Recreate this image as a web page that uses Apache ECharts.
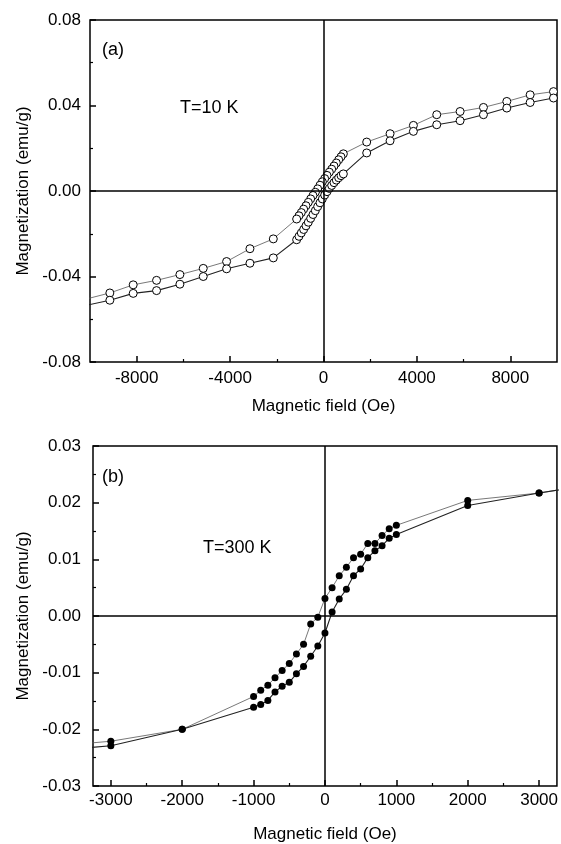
<!DOCTYPE html>
<html>
<head>
<meta charset="utf-8">
<script src="https://cdn.jsdelivr.net/npm/echarts@6/dist/echarts.min.js"></script>
<style>
html, body { margin: 0; padding: 0; background: #fff; }
#chart { width: 561px; height: 844px; }
</style>
</head>
<body>
<div id="chart"></div>
<script>
// (a) T=10 K, 磁滞回线 - 下降支 / 上升支
var a_fieldDown = [9850, 8850, 7850, 6850, 5850, 4850, 3850, 2850, 1850,
	850, 750, 650, 550, 450, 350, 250, 150, 50, -50, -150, -250, -350, -450, -550, -650, -750, -850, -950, -1050, -1150,
	-2150, -3150, -4150, -5150, -6150, -7150, -8150, -9150, -10150];
var a_magDown = [0.0465, 0.0450, 0.0419, 0.0391, 0.0372, 0.0357, 0.0307, 0.0268, 0.0229,
	0.0174, 0.0160, 0.0146, 0.0131, 0.0117, 0.0102, 0.0088, 0.0073, 0.0058, 0.0043, 0.0027, 0.0010, -0.0006, -0.0021, -0.0037, -0.0053, -0.0069, -0.0085, -0.0101, -0.0116, -0.0131,
	-0.0224, -0.0270, -0.0330, -0.0362, -0.0391, -0.0418, -0.0439, -0.0477, -0.0505];
var a_fieldUp = [-10150, -9150, -8150, -7150, -6150, -5150, -4150, -3150, -2150,
	-1150, -1050, -950, -850, -750, -650, -550, -450, -350, -250, -150, -50, 50, 150, 250, 350, 450, 550, 650, 750, 850,
	1850, 2850, 3850, 4850, 5850, 6850, 7850, 8850, 9850];
var a_magUp = [-0.0535, -0.0511, -0.0479, -0.0466, -0.0436, -0.0400, -0.0364, -0.0338, -0.0313,
	-0.0228, -0.0212, -0.0196, -0.0180, -0.0163, -0.0146, -0.0128, -0.0110, -0.0092, -0.0073, -0.0055, -0.0037, -0.0019, -0.0003, 0.0012, 0.0026, 0.0039, 0.0051, 0.0062, 0.0072, 0.0080,
	0.0178, 0.0235, 0.0279, 0.0310, 0.0329, 0.0357, 0.0388, 0.0414, 0.0435];

// (b) T=300 K
var b_field = [-4000, -3000, -2000, -1000, -900, -800, -700, -600, -500, -400, -300, -200, -100, 0,
	100, 200, 300, 400, 500, 600, 700, 800, 900, 1000, 2000, 3000, 4000];
var b_magDown = [-0.0232, -0.0221, -0.0200, -0.0142, -0.0131, -0.0122, -0.0109, -0.0096, -0.0084, -0.0067, -0.0050, -0.0014, -0.0002, 0.0031,
	0.0050, 0.0071, 0.0086, 0.0103, 0.0109, 0.0128, 0.0128, 0.0142, 0.0154, 0.0160, 0.0204, 0.0217, 0.0237];
var b_magUp = [-0.0240, -0.0229, -0.0200, -0.0161, -0.0156, -0.0149, -0.0134, -0.0124, -0.0117, -0.0102, -0.0089, -0.0071, -0.0053, -0.0030,
	0.0007, 0.0030, 0.0047, 0.0071, 0.0083, 0.0103, 0.0115, 0.0124, 0.0137, 0.0144, 0.0195, 0.0217, 0.0237];

// 刻度
var a_xTicks = [-8000, -4000, 0, 4000, 8000];
var a_xMinor = [-6000, -2000, 2000, 6000];
var b_xTicks = [-3000, -2000, -1000, 0, 1000, 2000, 3000];
var b_xMinor = [-2500, -1500, -500, 500, 1500, 2500];

function pairs(xs, ys) {
	return xs.map(function (x, i) { return [x, ys[i]]; });
}

var FONT = 'Liberation Sans';
var chart = echarts.init(document.getElementById('chart'), null, { renderer: 'canvas' });

function xMain(grid, min, max, ticks) {
	return {
		gridIndex: grid, type: 'value', min: min, max: max,
		name: 'Magnetic field (Oe)', nameLocation: 'middle', nameGap: grid === 0 ? 36 : 40,
		nameTextStyle: { color: '#000', fontSize: 17, fontFamily: FONT },
		axisLine: { show: false, onZero: false },
		splitLine: { show: false },
		axisTick: { inside: true, length: 6, lineStyle: { color: '#000', width: 1.5 }, customValues: ticks },
		axisLabel: {
			customValues: ticks, color: '#000', fontSize: 17, fontFamily: FONT, margin: grid === 0 ? 8 : 6,
			formatter: function (v) { return String(v); }
		}
	};
}
function xMinor(grid, min, max, ticks) {
	return {
		gridIndex: grid, type: 'value', min: min, max: max, position: 'bottom',
		axisLine: { show: false, onZero: false }, splitLine: { show: false },
		axisLabel: { show: false },
		axisTick: { inside: true, length: 3, lineStyle: { color: '#000', width: 1.2 }, customValues: ticks }
	};
}
function yMain(grid, min, max, interval, gap, margin) {
	return {
		gridIndex: grid, type: 'value', min: min, max: max, interval: interval,
		name: 'Magnetization (emu/g)', nameLocation: 'middle', nameGap: gap,
		nameTextStyle: { color: '#000', fontSize: 17, fontFamily: FONT },
		axisLine: { show: false, onZero: false },
		splitLine: { show: false },
		axisTick: { inside: true, length: 6, lineStyle: { color: '#000', width: 1.5 } },
		minorTick: { show: true, splitNumber: 2, length: 3, lineStyle: { color: '#000', width: 1.2 } },
		axisLabel: {
			color: '#000', fontSize: 17, fontFamily: FONT, margin: margin,
			formatter: function (v) { return v.toFixed(2); }
		}
	};
}

var cross = {
	silent: true, symbol: ['none', 'none'], animation: false,
	label: { show: false },
	lineStyle: { color: '#000', type: 'solid', width: 1.5 },
	data: [{ xAxis: 0 }, { yAxis: 0 }]
};

var option = {
	animation: false,
	backgroundColor: '#fff',
	grid: [
		{ left: 90, right: 4, top: 20, height: 342, show: true, borderColor: '#000', borderWidth: 1.5 },
		{ left: 93, right: 3, top: 446, height: 342, show: true, borderColor: '#000', borderWidth: 1.5 }
	],
	xAxis: [
		xMain(0, -10000, 10000, a_xTicks),
		xMinor(0, -10000, 10000, a_xMinor),
		xMain(1, -3250, 3250, b_xTicks),
		xMinor(1, -3250, 3250, b_xMinor)
	],
	yAxis: [
		yMain(0, -0.08, 0.08, 0.04, 51, 9),
		yMain(1, -0.03, 0.03, 0.01, 54, 12)
	],
	graphic: [
		{ type: 'text', left: 102, top: 41, style: { text: '(a)', fill: '#000', font: '18px ' + FONT } },
		{ type: 'text', left: 180, top: 99, style: { text: 'T=10 K', fill: '#000', font: '18px ' + FONT } },
		{ type: 'text', left: 102, top: 468, style: { text: '(b)', fill: '#000', font: '18px ' + FONT } },
		{ type: 'text', left: 203, top: 539, style: { text: 'T=300 K', fill: '#000', font: '18px ' + FONT } }
	],
	series: [
		{ type: 'line', xAxisIndex: 0, yAxisIndex: 0, data: [], markLine: cross },
		{ type: 'line', xAxisIndex: 2, yAxisIndex: 1, data: [], markLine: cross },
		{
			name: '10K down', type: 'line', xAxisIndex: 0, yAxisIndex: 0,
			data: pairs(a_fieldDown, a_magDown),
			symbol: 'circle', symbolSize: 8, showAllSymbol: true,
			lineStyle: { color: '#555', width: 0.8 },
			itemStyle: { color: '#fff', borderColor: '#000', borderWidth: 1 }
		},
		{
			name: '10K up', type: 'line', xAxisIndex: 0, yAxisIndex: 0,
			data: pairs(a_fieldUp, a_magUp),
			symbol: 'circle', symbolSize: 8, showAllSymbol: true,
			lineStyle: { color: '#222', width: 1.1 },
			itemStyle: { color: '#fff', borderColor: '#000', borderWidth: 1 }
		},
		{
			name: '300K down', type: 'line', xAxisIndex: 2, yAxisIndex: 1,
			data: pairs(b_field, b_magDown),
			symbol: 'circle', symbolSize: 7, showAllSymbol: true,
			lineStyle: { color: '#555', width: 0.8 },
			itemStyle: { color: '#000' }
		},
		{
			name: '300K up', type: 'line', xAxisIndex: 2, yAxisIndex: 1,
			data: pairs(b_field, b_magUp),
			symbol: 'circle', symbolSize: 7, showAllSymbol: true,
			lineStyle: { color: '#222', width: 1.1 },
			itemStyle: { color: '#000' }
		}
	]
};

chart.setOption(option);
</script>
</body>
</html>
